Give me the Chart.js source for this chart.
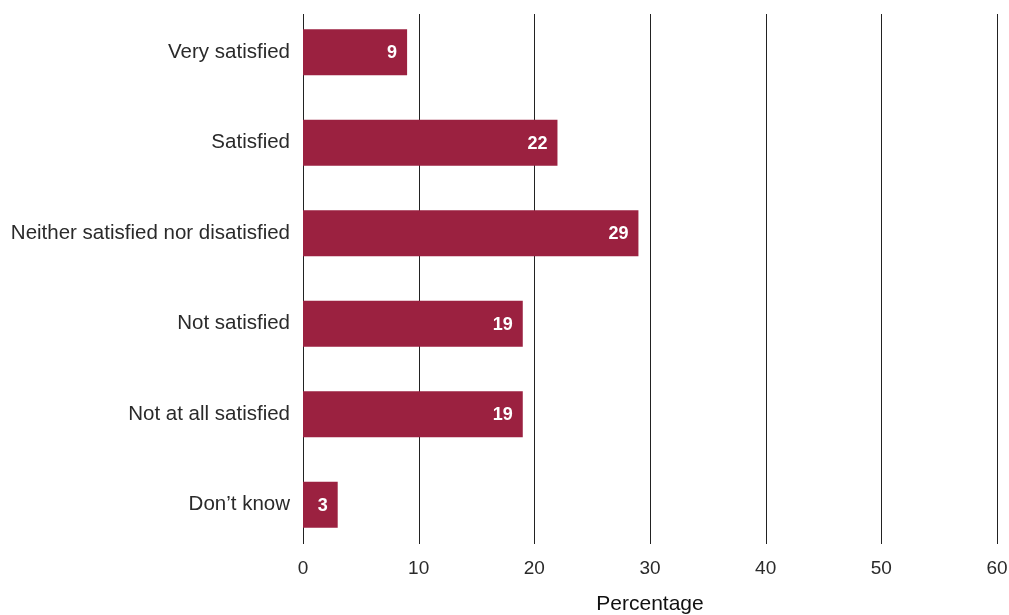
<!DOCTYPE html>
<html>
<head>
<meta charset="utf-8">
<script src="https://cdn.jsdelivr.net/npm/chart.js@4/dist/chart.umd.min.js"></script>
<style>
html,body{margin:0;padding:0;background:#fff;overflow:hidden;}
canvas{display:block;}
</style>
</head>
<body>
<canvas id="c" width="1009" height="615" style="width:1009px;height:615px"></canvas>
<script>
const categories = ["Very satisfied","Satisfied","Neither satisfied nor disatisfied","Not satisfied","Not at all satisfied","Don\u2019t know"];
const values = [9, 22, 29, 19, 19, 3];
const xTicks = [0, 10, 20, 30, 40, 50, 60];
const axisTitle = "Percentage";

const FONT = "'Liberation Sans', Arial, Helvetica, sans-serif";

const gridPlugin = {
  id: 'gridPlugin',
  beforeDatasetsDraw(chart) {
    const {ctx, chartArea, scales} = chart;
    const top = chartArea.top + 7, bottom = chartArea.bottom - 6;
    ctx.save();
    ctx.strokeStyle = '#222';
    ctx.lineWidth = 1;
    xTicks.forEach(t => {
      const x = Math.round(scales.x.getPixelForValue(t)) + 0.5;
      ctx.beginPath();
      ctx.moveTo(x, top);
      ctx.lineTo(x, bottom);
      ctx.stroke();
    });
    ctx.restore();
  }
};

const labelPlugin = {
  id: 'labelPlugin',
  afterDatasetsDraw(chart) {
    const {ctx} = chart;
    const meta = chart.getDatasetMeta(0);
    ctx.save();
    ctx.fillStyle = '#fff';
    ctx.font = "bold 18px " + FONT;
    ctx.textAlign = 'right';
    ctx.textBaseline = 'middle';
    meta.data.forEach((bar, i) => {
      ctx.fillText(String(values[i]), bar.x - 10, bar.y + 1);
    });
    ctx.restore();
  }
};

new Chart(document.getElementById('c'), {
  type: 'bar',
  data: {
    labels: categories,
    datasets: [{
      data: values,
      backgroundColor: '#9b2140',
      borderWidth: 0,
      categoryPercentage: 0.508,
      barPercentage: 1
    }]
  },
  options: {
    indexAxis: 'y',
    responsive: false,
    devicePixelRatio: 1,
    animation: false,
    layout: { padding: { top: 7, right: 12, bottom: 0, left: 0 } },
    plugins: { legend: { display: false }, tooltip: { enabled: false } },
    scales: {
      x: {
        min: 0, max: 60,
        afterBuildTicks(axis) { axis.ticks = xTicks.map(v => ({value: v})); },
        afterFit(axis) { axis.height = 65; axis.paddingLeft = 0; axis.paddingRight = 0; },
        grid: { display: false, drawTicks: false },
        border: { display: false },
        ticks: { color: '#2a2a2a', font: { family: FONT, size: 19 }, padding: 7, maxRotation: 0 },
        title: { display: true, text: axisTitle, color: '#111', font: { family: FONT, size: 21, lineHeight: 1 }, padding: { top: 0, bottom: 0 } }
      },
      y: {
        afterFit(axis) { axis.width = 303; axis.paddingTop = 0; axis.paddingBottom = 0; },
        grid: { display: false, drawTicks: false },
        border: { display: false },
        ticks: { color: '#2a2a2a', font: { family: FONT, size: 20.5 }, padding: 13 }
      }
    }
  },
  plugins: [gridPlugin, labelPlugin]
});
</script>
</body>
</html>
